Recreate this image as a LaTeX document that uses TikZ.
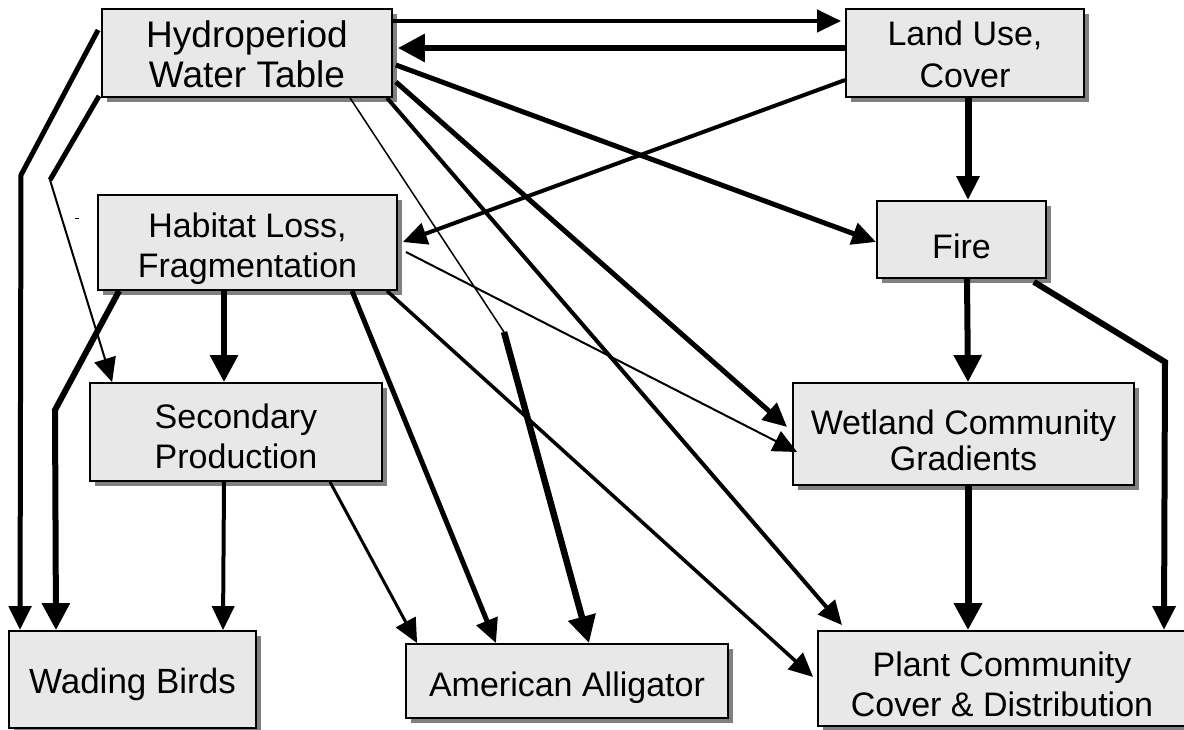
\documentclass[tikz,border=0pt]{standalone}
\usepackage{fontspec}
\setmainfont{Liberation Sans}
\usetikzlibrary{arrows.meta,shadows,calc}
\definecolor{boxfill}{RGB}{232,232,232}
% invisible strut that sets the height of a box's first text line
\newcommand\firstline[1]{\rule{0pt}{#1}}
\begin{document}
\begin{tikzpicture}[x=1pt,y=-1pt,
  box/.style={draw=black,line width=1.8pt,fill=boxfill,inner sep=0pt,align=center,
    font=\fontsize{34}{40}\selectfont,
    drop shadow={shadow xshift=5pt,shadow yshift=-5pt,fill=black!50,opacity=1}},
  link/.style={line width=#1,line join=miter,-{Triangle[length=24pt,width=22pt]}},
  biglink/.style={line width=#1,line join=miter,-{Triangle[length=27pt,width=27pt]}},
  seg/.style={line width=#1,line cap=butt}]
\useasboundingbox (0,0) rectangle (1184,730);

% ---- boxes ----
\node[box,minimum width=290pt,minimum height=88pt,font=\fontsize{37}{40}\selectfont] (hydro) at (247,53) {\firstline{30pt}Hydroperiod\\Water Table};
\node[box,minimum width=238pt,minimum height=88pt,font=\fontsize{34}{42}\selectfont] (land) at (965,53) {\firstline{28pt}Land Use,\\Cover};
\node[box,minimum width=299pt,minimum height=95pt] (habitat) at (247.5,242.5) {\firstline{38pt}Habitat Loss,\\Fragmentation};
\node[box,minimum width=169pt,minimum height=77pt] (fire) at (961.5,239.5) {\firstline{38pt}Fire};
\node[box,minimum width=292pt,minimum height=98pt] (second) at (236,432) {\firstline{33pt}Secondary\\Production};
\node[box,minimum width=341pt,minimum height=102pt,font=\fontsize{34}{36}\selectfont] (wetland) at (963.5,434) {\firstline{38pt}Wetland Community\\Gradients};
\node[box,minimum width=247pt,minimum height=97pt,font=\fontsize{35}{40}\selectfont] (wading) at (132.5,679.5) {\firstline{36pt}Wading Birds};
\node[box,minimum width=322pt,minimum height=74pt] (gator) at (567,681) {\firstline{38pt}American Alligator};
\node[box,minimum width=368pt,minimum height=95pt] (plant) at (1002,678.5) {\firstline{37pt}Plant Community\\Cover \& Distribution};

% ---- bend points ----
\coordinate (bendA) at (21,175);
\coordinate (bendB) at (50,180);
\coordinate (bendC) at (55,410);
\coordinate (bendD) at (504,332);
\coordinate (bendE) at (1165,362);

% ---- links between the top pair ----
\draw[link=4pt] ([yshift=32pt]hydro.east) -- ([xshift=-4pt,yshift=32pt]land.west);
\draw[biglink=6pt] ([yshift=5pt]land.west) -- ([xshift=5pt,yshift=5pt]hydro.east);
\draw[link=4pt] ([yshift=-27pt]land.west) -- ([xshift=5pt,yshift=0.5pt]habitat.east);
\draw[link=7pt] ([xshift=3pt]land.south) -- ([xshift=6.5pt]fire.north);

% ---- from hydroperiod ----
\draw[link=5pt] ([xshift=3pt,yshift=-12pt]hydro.east) -- ([yshift=-2.5pt]fire.west);
\draw[link=5pt] ([xshift=3pt,yshift=-29pt]hydro.east) -- ([xshift=-5pt,yshift=7pt]wetland.west);
\draw[link=4pt] ([xshift=140pt]hydro.south) -- ([xshift=-160pt,yshift=5pt]plant.north);
\draw[seg=1.5pt] ([xshift=103pt]hydro.south) -- (bendD);
\draw[biglink=6.5pt] (bendD) -- ([xshift=22pt]gator.north);
\draw[link=5pt] ([xshift=-3pt,yshift=23pt]hydro.west) -- (bendA) -- ([xshift=-112.5pt]wading.north);
\draw[seg=5pt] ([xshift=-2pt,yshift=2pt]hydro.south west) -- (bendB);
\draw[link=2pt] (bendB) -- ([xshift=23pt]second.north west);

% ---- from habitat loss ----
\draw[biglink=6pt] ([xshift=22pt]habitat.south west) -- (bendC) -- ([xshift=-76.5pt]wading.north);
\draw[biglink=6pt] ([xshift=-23.5pt]habitat.south) -- ([xshift=-12pt]second.north);
\draw[link=5pt] ([xshift=104.5pt]habitat.south) -- ([xshift=-71pt]gator.north);
\draw[link=3.5pt] ([xshift=139.5pt]habitat.south) -- ([xshift=-4pt,yshift=1.5pt]plant.west);
\draw[link=2pt] ([xshift=8pt,yshift=-9.5pt]habitat.east) -- ([xshift=5pt,yshift=-18pt]wetland.west);

% ---- from secondary production ----
\draw[link=4pt] ([xshift=-12pt]second.south) -- ([xshift=90.5pt]wading.north);
\draw[link=3pt] ([xshift=94pt]second.south) -- ([xshift=12pt]gator.north west);

% ---- from fire and wetland ----
\draw[biglink=6pt] ([xshift=5.5pt]fire.south) -- ([xshift=4.5pt]wetland.north);
\draw[link=6pt] ([xshift=-13pt,yshift=-3pt]fire.south east) -- (bendE) -- ([xshift=162pt]plant.north);
\draw[biglink=7pt] ([xshift=4.5pt]wetland.south) -- ([xshift=-34pt]plant.north);

% small stray tick left of the habitat box
\draw[line width=1pt] (75,219) -- (79,219);
\end{tikzpicture}
\end{document}
